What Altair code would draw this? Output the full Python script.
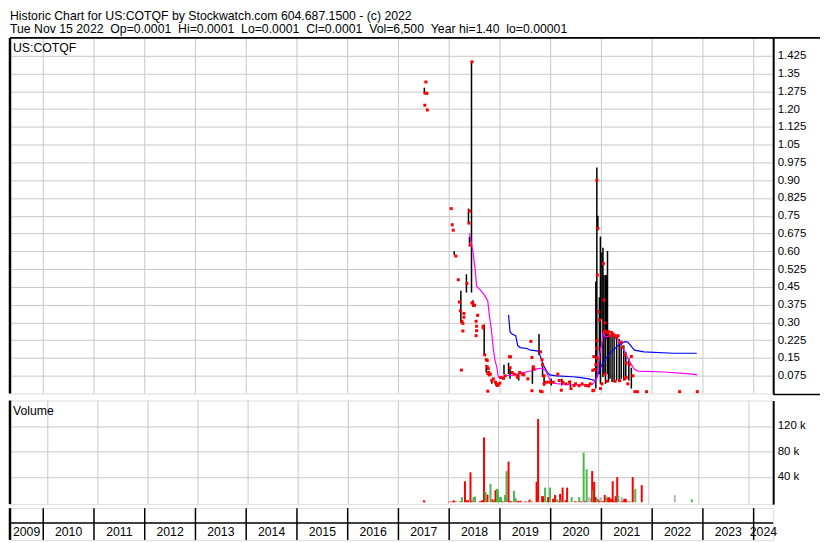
import altair as alt
import pandas as pd

# ---------------- data ----------------
title_line1 = "Historic Chart for US:COTQF by Stockwatch.com 604.687.1500 - (c) 2022"
title_line2 = ("Tue Nov 15 2022 \u00a0Op=0.0001 \u00a0Hi=0.0001 \u00a0Lo=0.0001 \u00a0Cl=0.0001"
               " \u00a0Vol=6,500 \u00a0Year hi=1.40 \u00a0lo=0.00001")
symbol = "US:COTQF"

year_bounds = list(range(2010, 2025))
year_labels = list(range(2009, 2025))
x_domain = [2009.345, 2024.385]

price_ticks = [0.075, 0.15, 0.225, 0.30, 0.375, 0.45, 0.525, 0.60, 0.675, 0.75,
               0.825, 0.90, 0.975, 1.05, 1.125, 1.20, 1.275, 1.35, 1.425]
vol_ticks = [40000, 80000, 120000]

# high-low bars
bar_yr = [2017.51, 2018.10, 2018.23, 2018.34, 2018.38, 2018.40, 2018.44, 2018.47, 2018.69, 2018.73,
          2018.84, 2018.92, 2019.08, 2019.17, 2019.20, 2019.37, 2019.64, 2019.77, 2019.84, 2019.87,
          2020.01, 2020.22, 2020.39, 2020.89, 2020.91, 2020.93, 2020.96, 2020.98, 2021.01, 2021.03,
          2021.05, 2021.08, 2021.10, 2021.12, 2021.14, 2021.17, 2021.21, 2021.25, 2021.30, 2021.35,
          2021.39, 2021.44, 2021.48, 2021.54, 2021.59]
bar_hi = [1.290, 0.600, 0.434, 0.503, 0.780, 0.662, 1.401, 0.394, 0.291, 0.122,
          0.058, 0.053, 0.122, 0.130, 0.110, 0.082, 0.114, 0.251, 0.130, 0.070,
          0.062, 0.062, 0.055, 0.473, 0.953, 0.750, 0.406, 0.662, 0.596, 0.615,
          0.500, 0.500, 0.500, 0.601, 0.257, 0.244, 0.257, 0.244, 0.244, 0.230,
          0.217, 0.203, 0.176, 0.149, 0.109]
bar_lo = [1.263, 0.584, 0.297, 0.426, 0.719, 0.633, 0.426, 0.365, 0.163, 0.090,
          0.041, 0.033, 0.082, 0.082, 0.062, 0.055, 0.041, 0.163, 0.070, 0.033,
          0.034, 0.034, 0.028, 0.021, 0.068, 0.689, 0.082, 0.041, 0.313, 0.070,
          0.082, 0.041, 0.232, 0.082, 0.048, 0.062, 0.049, 0.048, 0.055, 0.048,
          0.062, 0.055, 0.068, 0.055, 0.021]

# close prints (red squares)
dot_yr = [2017.54, 2017.53, 2017.56, 2017.52, 2017.57,
          2018.04, 2018.06, 2018.08, 2018.13, 2018.18, 2018.20, 2018.22, 2018.25, 2018.27, 2018.29,
          2018.29, 2018.27, 2018.24, 2018.35, 2018.40, 2018.39, 2018.41, 2018.45, 2018.45, 2018.47,
          2018.50, 2018.56, 2018.53, 2018.54, 2018.54, 2018.53, 2018.67, 2018.67, 2018.70, 2018.73,
          2018.75, 2018.75, 2018.77, 2018.78, 2018.76, 2018.79, 2018.81, 2018.76, 2018.84, 2018.87,
          2018.91, 2018.94, 2018.97, 2019.00, 2018.95,
          2019.02, 2019.07, 2019.10, 2019.19, 2019.21, 2019.20, 2019.24, 2019.28, 2019.34, 2019.35,
          2019.39, 2019.44, 2019.47, 2019.55, 2019.61, 2019.63, 2019.63, 2019.66, 2019.67, 2019.80,
          2019.83, 2019.84, 2019.87, 2019.87, 2019.92, 2019.98, 2020.05, 2019.80, 2019.83,
          2020.14, 2020.17, 2020.21, 2020.24, 2020.30, 2020.37, 2020.40, 2020.46, 2020.49, 2020.56,
          2020.62, 2020.69, 2020.75, 2020.78, 2020.83, 2020.83, 2020.85, 2020.87, 2020.85,
          2020.91, 2020.93, 2020.92, 2020.94, 2020.96, 2020.91, 2020.92, 2020.98, 2021.01, 2021.04,
          2021.05, 2021.07, 2021.07, 2021.11, 2021.14, 2021.17, 2021.20, 2021.23, 2021.27, 2021.30,
          2021.33, 2021.39, 2021.42, 2021.46, 2021.49, 2021.55, 2021.59, 2021.62, 2021.07, 2021.11,
          2021.27, 2021.36, 2021.46, 2021.49, 2021.52, 2020.91, 2020.89,
          2021.66, 2021.71, 2021.89, 2022.54, 2022.89]
dot_px = [1.314, 1.267, 1.266, 1.216, 1.196,
          0.780, 0.712, 0.689, 0.580, 0.480, 0.386, 0.349, 0.305, 0.296, 0.338,
          0.322, 0.264, 0.099, 0.464, 0.770, 0.719, 0.626, 1.399, 0.383, 0.379,
          0.372, 0.330, 0.305, 0.284, 0.265, 0.244, 0.284, 0.277, 0.163, 0.143,
          0.139, 0.113, 0.105, 0.089, 0.085, 0.079, 0.082, 0.010, 0.055, 0.062,
          0.048, 0.040, 0.037, 0.044, 0.034,
          0.068, 0.064, 0.075, 0.155, 0.155, 0.109, 0.089, 0.082, 0.075, 0.068,
          0.089, 0.082, 0.079, 0.062, 0.220, 0.152, 0.012, 0.113, 0.102, 0.176,
          0.143, 0.122, 0.075, 0.041, 0.048, 0.048, 0.048, 0.010, 0.008,
          0.082, 0.055, 0.014, 0.048, 0.041, 0.048, 0.021, 0.034, 0.041, 0.033,
          0.041, 0.034, 0.032, 0.041, 0.098, 0.012, 0.156, 0.102, 0.014,
          0.899, 0.696, 0.500, 0.345, 0.311, 0.191, 0.149, 0.021, 0.041, 0.548,
          0.394, 0.298, 0.264, 0.257, 0.261, 0.244, 0.257, 0.251, 0.244, 0.237,
          0.244, 0.217, 0.196, 0.163, 0.129, 0.122, 0.156, 0.075, 0.082, 0.052,
          0.052, 0.055, 0.062, 0.068, 0.041, 0.224, 0.122,
          0.008, 0.008, 0.008, 0.008, 0.008]

# short moving average (magenta)
ma1_yr = [2018.40, 2018.44, 2018.47, 2018.51, 2018.54, 2018.63, 2018.70, 2018.76, 2018.79, 2018.83,
          2018.87, 2018.90, 2018.94, 2018.97, 2019.05, 2019.11, 2019.24, 2019.40, 2019.60, 2019.72,
          2019.85, 2019.92, 2020.00, 2020.11, 2020.37, 2020.62, 2020.82, 2020.91, 2020.94, 2020.97,
          2021.01, 2021.04, 2021.08, 2021.17, 2021.27, 2021.33, 2021.39, 2021.46, 2021.52, 2021.59,
          2021.65, 2021.72, 2022.23, 2022.62, 2022.78, 2022.89]
ma1_px = [0.676, 0.629, 0.595, 0.527, 0.453, 0.433, 0.413, 0.392, 0.332, 0.271,
          0.190, 0.143, 0.109, 0.068, 0.063, 0.075, 0.078, 0.085, 0.095, 0.104,
          0.107, 0.090, 0.050, 0.042, 0.038, 0.037, 0.039, 0.065, 0.110, 0.170,
          0.215, 0.257, 0.238, 0.244, 0.244, 0.230, 0.203, 0.176, 0.149, 0.122,
          0.102, 0.095, 0.091, 0.085, 0.082, 0.079]

# long moving average (blue)
ma2_yr = [2019.17, 2019.20, 2019.24, 2019.31, 2019.35, 2019.40, 2019.53, 2019.60, 2019.76, 2019.80,
          2019.85, 2019.92, 2019.98, 2020.11, 2020.43, 2020.56, 2020.75, 2020.88, 2020.91, 2020.98,
          2021.07, 2021.20, 2021.33, 2021.46, 2021.52, 2021.65, 2021.84, 2022.42, 2022.88]
ma2_px = [0.332, 0.260, 0.251, 0.244, 0.203, 0.194, 0.190, 0.183, 0.179, 0.156,
          0.122, 0.095, 0.079, 0.075, 0.071, 0.068, 0.062, 0.055, 0.068, 0.109,
          0.143, 0.176, 0.203, 0.219, 0.217, 0.183, 0.176, 0.170, 0.170]

# volume bars
vol_yr = [2017.51, 2017.53, 2018.02, 2018.06, 2018.09, 2018.11, 2018.15, 2018.22, 2018.25, 2018.27,
          2018.33, 2018.36, 2018.39, 2018.44, 2018.47, 2018.50, 2018.53, 2018.63, 2018.67, 2018.71,
          2018.74, 2018.78, 2018.84, 2018.88, 2018.91, 2018.94, 2018.97, 2018.99, 2019.02, 2019.05,
          2019.08, 2019.13, 2019.16, 2019.20, 2019.23, 2019.26, 2019.31, 2019.34, 2019.37, 2019.40,
          2019.44, 2019.52, 2019.55, 2019.60, 2019.62, 2019.67, 2019.76, 2019.79, 2019.82, 2019.87,
          2019.89, 2019.93, 2019.97, 2019.99, 2020.03, 2020.08, 2020.09, 2020.13, 2020.17, 2020.21,
          2020.23, 2020.25, 2020.28, 2020.34, 2020.37, 2020.40, 2020.46, 2020.53, 2020.56, 2020.61,
          2020.65, 2020.70, 2020.73, 2020.76, 2020.80, 2020.84, 2020.87, 2020.89, 2020.91, 2020.94,
          2020.98, 2021.01, 2021.04, 2021.06, 2021.09, 2021.12, 2021.16, 2021.19, 2021.21, 2021.25,
          2021.28, 2021.31, 2021.34, 2021.37, 2021.39, 2021.43, 2021.46, 2021.48, 2021.51, 2021.54,
          2021.56, 2021.61, 2021.64, 2021.68, 2021.73, 2021.86, 2022.52, 2022.86]
vol_val = [3000, 1000, 1000, 1000, 1000, 3000, 1000, 1500, 1500, 8000,
           33000, 3000, 3000, 47000, 1500, 8000, 9000, 1500, 3000, 102000,
           16500, 12000, 29000, 4500, 3000, 19000, 21000, 19000, 8000, 8000,
           1500, 11500, 49000, 64000, 1500, 1500, 18000, 6500, 1500, 2000,
           2500, 1000, 1000, 1000, 4000, 1000, 32000, 131000, 3000, 9500,
           9500, 23000, 1500, 8000, 23000, 1000, 5500, 11500, 4500, 1500,
           13000, 3000, 23000, 3000, 23000, 1000, 8000, 1500, 1000, 8000,
           1500, 78000, 1500, 52000, 8000, 6500, 49000, 19000, 32000, 8000,
           5500, 3000, 8000, 1000, 1500, 11500, 9000, 6500, 8000, 5500,
           33000, 1500, 9500, 39500, 10500, 3000, 8000, 1500, 5500, 5500,
           1500, 1000, 1000, 39500, 21000, 27000, 11000, 4500]
vol_dir = ["down", "down", "down", "down", "down", "down", "down", "up", "up", "up",
           "down", "down", "down", "down", "down", "up", "up", "down", "down", "down",
           "up", "down", "up", "down", "up", "down", "up", "up", "up", "up",
           "down", "up", "up", "down", "down", "down", "up", "up", "down", "down",
           "down", "down", "down", "up", "down", "down", "down", "down", "flat", "down",
           "down", "up", "up", "down", "up", "down", "down", "down", "up", "down",
           "down", "up", "down", "down", "down", "up", "up", "down", "down", "up",
           "down", "up", "down", "up", "flat", "flat", "down", "up", "down", "down",
           "up", "down", "flat", "down", "down", "down", "up", "down", "down", "down",
           "down", "down", "down", "down", "up", "flat", "flat", "down", "down", "down",
           "down", "down", "up", "down", "up", "down", "flat", "up"]

# ---------------- layout ----------------
W = 766
H_P = 357
H_V = 104
H_S = 32
FONT = "Liberation Sans"
FS = 12.3
GRID = "#c8c8c8"

df_bars = pd.DataFrame({"yr": bar_yr, "hi": bar_hi, "lo": bar_lo})
df_dots = pd.DataFrame({"yr": dot_yr, "px": dot_px})
df_ma1 = pd.DataFrame({"yr": ma1_yr, "px": ma1_px})
df_ma2 = pd.DataFrame({"yr": ma2_yr, "px": ma2_px})
df_vol = pd.DataFrame({"yr": vol_yr, "vol": vol_val, "dir": vol_dir})
df_one = pd.DataFrame({"t": [symbol]})
df_volname = pd.DataFrame({"t": ["Volume"]})
df_bounds = pd.DataFrame({"yr": year_bounds})
df_labels = pd.DataFrame({
    "label": [str(y) for y in year_labels],
    "pos": [(max(y, x_domain[0]) + min(y + 1, x_domain[1])) / 2 for y in year_labels],
})

xscale = alt.Scale(domain=x_domain, nice=False, zero=False)
X = alt.X("yr:Q", scale=xscale, axis=None)


def vgrid(h):
    return alt.Chart(df_bounds).mark_rule(color=GRID, strokeWidth=1).encode(
        x=X, y=alt.value(0), y2=alt.value(h))


def left_border(h):
    return alt.Chart(df_one).mark_rule(color="black", strokeWidth=2.5).encode(
        x=alt.value(0), y=alt.value(0), y2=alt.value(h))


pscale = alt.Scale(domain=[0, 1.5], nice=False, zero=False)
paxis = alt.Axis(orient="right", values=price_ticks, grid=True, gridColor=GRID, gridWidth=1,
                 ticks=False, domain=True, domainColor="black", domainWidth=2,
                 labelFont=FONT, labelFontSize=11.5, labelColor="black", labelPadding=4,
                 labelOverlap=False, labelFlush=False, title=None,
                 labelExpr="round(datum.value*1000) % 10 == 0 ? format(datum.value, '.2f') : format(datum.value, '.3f')")

bars = alt.Chart(df_bars).mark_rule(color="black", strokeWidth=1.5).encode(
    x=X, y=alt.Y("hi:Q", scale=pscale, axis=paxis), y2="lo:Q")
ma2 = alt.Chart(df_ma2).mark_line(color="#0000ff", strokeWidth=1.2).encode(
    x=X, y=alt.Y("px:Q", scale=pscale, axis=paxis))
ma1 = alt.Chart(df_ma1).mark_line(color="#ff00ff", strokeWidth=1.2).encode(
    x=X, y=alt.Y("px:Q", scale=pscale, axis=paxis))
dots = alt.Chart(df_dots).mark_square(color="#ff0000", size=9, opacity=1).encode(
    x=X, y=alt.Y("px:Q", scale=pscale, axis=paxis))
sym = alt.Chart(df_one).mark_text(align="left", baseline="middle", font=FONT, fontSize=FS,
                                  color="black").encode(
    x=alt.value(3), y=alt.value(10.5), text="t:N")
top_line = alt.Chart(df_one).mark_rule(color="black", strokeWidth=2).encode(
    x=alt.value(0), x2=alt.value(W + 47), y=alt.value(0))
sep_line = alt.Chart(df_one).mark_rule(color="black", strokeWidth=1.5).encode(
    x=alt.value(W), x2=alt.value(W + 47), y=alt.value(H_P + 1))

price = alt.layer(vgrid(H_P), bars, ma2, ma1, dots, sym, top_line, sep_line,
                  left_border(H_P)).properties(width=W, height=H_P)

vscale = alt.Scale(domain=[-3050, 160000], nice=False, zero=False)
vaxis = alt.Axis(orient="right", values=vol_ticks, grid=True, gridColor=GRID, gridWidth=1,
                 ticks=False, domain=True, domainColor="black", domainWidth=2,
                 labelFont=FONT, labelFontSize=11.5, labelColor="black", labelPadding=4,
                 labelOverlap=False, labelFlush=False, title=None,
                 labelExpr="(datum.value / 1000) + ' k'")
vbars = alt.Chart(df_vol).mark_bar(size=2).encode(
    x=X, y=alt.Y("vol:Q", scale=vscale, axis=vaxis), y2=alt.value(H_V),
    color=alt.Color("dir:N", scale=alt.Scale(domain=["down", "up", "flat"],
                                             range=["#ff0000", "#4cb84c", "#b4b4b4"]),
                    legend=None))
vname = alt.Chart(df_volname).mark_text(align="left", baseline="middle", font=FONT, fontSize=FS,
                                        color="black").encode(
    x=alt.value(3), y=alt.value(10.7), text="t:N")
volume = alt.layer(vgrid(H_V), vbars, vname, left_border(H_V)).properties(width=W, height=H_V)

dividers = alt.Chart(df_bounds).mark_rule(color="black", strokeWidth=1.5).encode(
    x=X, y=alt.value(0), y2=alt.value(H_S))
row_line = alt.Chart(df_one).mark_rule(color="black", strokeWidth=1.5).encode(
    x=alt.value(0), x2=alt.value(W), y=alt.value(15))
ylabels = alt.Chart(df_labels).mark_text(align="center", baseline="middle", font=FONT,
                                         fontSize=FS, color="black").encode(
    x=alt.X("pos:Q", scale=xscale, axis=None), y=alt.value(23.5), text="label:N")
strip = alt.layer(dividers, row_line, ylabels, left_border(H_S)).properties(width=W, height=H_S)

chart = alt.vconcat(
    alt.vconcat(price, volume, spacing=2),
    strip,
    spacing=0,
).properties(
    padding=0,
    title=alt.TitleParams(
        text=title_line1, subtitle=title_line2, anchor="start", frame="group",
        font=FONT, fontSize=FS, fontWeight="normal", color="black",
        subtitleFont=FONT, subtitleFontSize=FS, subtitleColor="black",
        subtitlePadding=1, offset=1, dx=0,
    ),
).configure_view(stroke="black", strokeWidth=1.5).configure(background="white")

chart.save("out.html", embed_options={"renderer": "svg", "actions": False})
